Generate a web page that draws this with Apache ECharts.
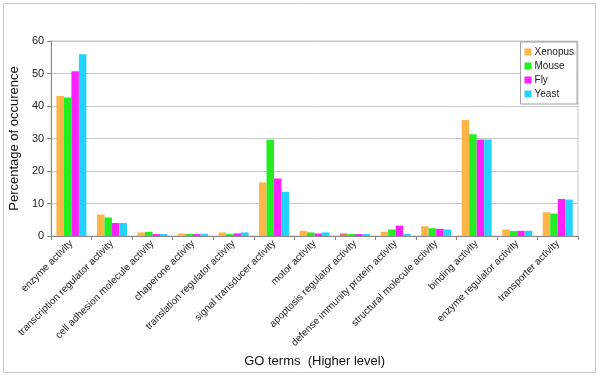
<!DOCTYPE html>
<html>
<head>
<meta charset="utf-8">
<script src="https://cdn.jsdelivr.net/npm/echarts@6/dist/echarts.min.js"></script>
<style>
  html, body { margin: 0; padding: 0; background: #fff; }
  #chart { width: 600px; height: 376px; }
</style>
</head>
<body>
<div id="chart"></div>
<script>
const categories = [
  'enzyme activity',
  'transcription regulator activity',
  'cell adhesion molecule activity',
  'chaperone activity',
  'translation regulator activity',
  'signal transducer activity',
  'motor activity',
  'apoptosis regulator activity',
  'defense immunity protein activity',
  'structural molecule activity',
  'binding activity',
  'enzyme regulator activity',
  'transporter activity'
];
const xenopus = [43.1, 6.6, 1.1, 0.8, 1.1, 16.5, 1.6, 0.8, 1.3, 3.0, 35.7, 2.0, 7.3];
const mouse   = [42.6, 5.7, 1.3, 0.6, 0.6, 29.6, 1.1, 0.6, 2.0, 2.4, 31.3, 1.5, 6.9];
const fly     = [50.7, 4.0, 0.6, 0.6, 0.8, 17.7, 0.8, 0.6, 3.2, 2.2, 29.7, 1.6, 11.4];
const yeast   = [55.9, 4.0, 0.6, 0.7, 1.1, 13.6, 1.1, 0.6, 0.6, 2.0, 29.7, 1.6, 11.2];
const yTicks = [0, 10, 20, 30, 40, 50, 60];

const font = 'Liberation Sans, Arial, sans-serif';
const colors = ['#ffb547', '#22ee22', '#ff22ff', '#22d2ff'];

const chart = echarts.init(document.getElementById('chart'));

const makeSeries = (name, values, color) => ({
  name,
  type: 'bar',
  data: values.map((v, i) =>
    (name === 'Xenopus' && i === 7) ? { value: v, itemStyle: { color: '#e8786a' } } : v),
  itemStyle: { color },
  barGap: '0%',
  barCategoryGap: '26%'
});

chart.setOption({
  backgroundColor: '#fff',
  animation: false,
  textStyle: { fontFamily: font },
  color: colors,
  grid: { left: 51, right: 22, top: 41, bottom: 140, show: true, borderColor: '#c8c8c8', borderWidth: 1 },
  legend: {
    orient: 'vertical',
    right: 23,
    top: 42,
    backgroundColor: '#fff',
    borderColor: '#a0a0a0',
    borderWidth: 1,
    padding: [5, 3, 5, 4],
    itemWidth: 7,
    itemHeight: 7,
    itemGap: 4,
    icon: 'rect',
    textStyle: { fontSize: 10, color: '#222', fontFamily: font, padding: [0, 0, 0, -2] },
    data: ['Xenopus', 'Mouse', 'Fly', 'Yeast']
  },
  xAxis: {
    type: 'category',
    data: categories,
    name: 'GO terms  (Higher level)',
    nameLocation: 'middle',
    nameGap: 119,
    nameTextStyle: { fontSize: 13, color: '#111', fontFamily: font },
    axisLine: { lineStyle: { color: '#888' } },
    axisTick: { show: true, length: 4, lineStyle: { color: '#888' } },
    axisLabel: { rotate: 45, fontSize: 10, color: '#222', interval: 0, margin: 6, fontFamily: font }
  },
  yAxis: {
    type: 'value',
    min: 0,
    max: yTicks[yTicks.length - 1],
    interval: yTicks[1] - yTicks[0],
    name: 'Percentage of occurence',
    nameLocation: 'middle',
    nameGap: 30,
    nameTextStyle: { fontSize: 13, color: '#111', fontFamily: font },
    axisLine: { show: true, lineStyle: { color: '#888' } },
    axisTick: { show: true, length: 4, inside: false, lineStyle: { color: '#888' } },
    axisLabel: { fontSize: 11, color: '#222', margin: 7, fontFamily: font },
    splitLine: { lineStyle: { color: '#c8c8c8' } }
  },
  graphic: [{
    type: 'rect',
    shape: { x: 3.5, y: 3.5, width: 592, height: 369 },
    style: { fill: 'none', stroke: '#c8c8c8', lineWidth: 1 },
    silent: true,
    z: -1
  }],
  series: [
    makeSeries('Xenopus', xenopus, colors[0]),
    makeSeries('Mouse', mouse, colors[1]),
    makeSeries('Fly', fly, colors[2]),
    makeSeries('Yeast', yeast, colors[3])
  ]
});
</script>
</body>
</html>
